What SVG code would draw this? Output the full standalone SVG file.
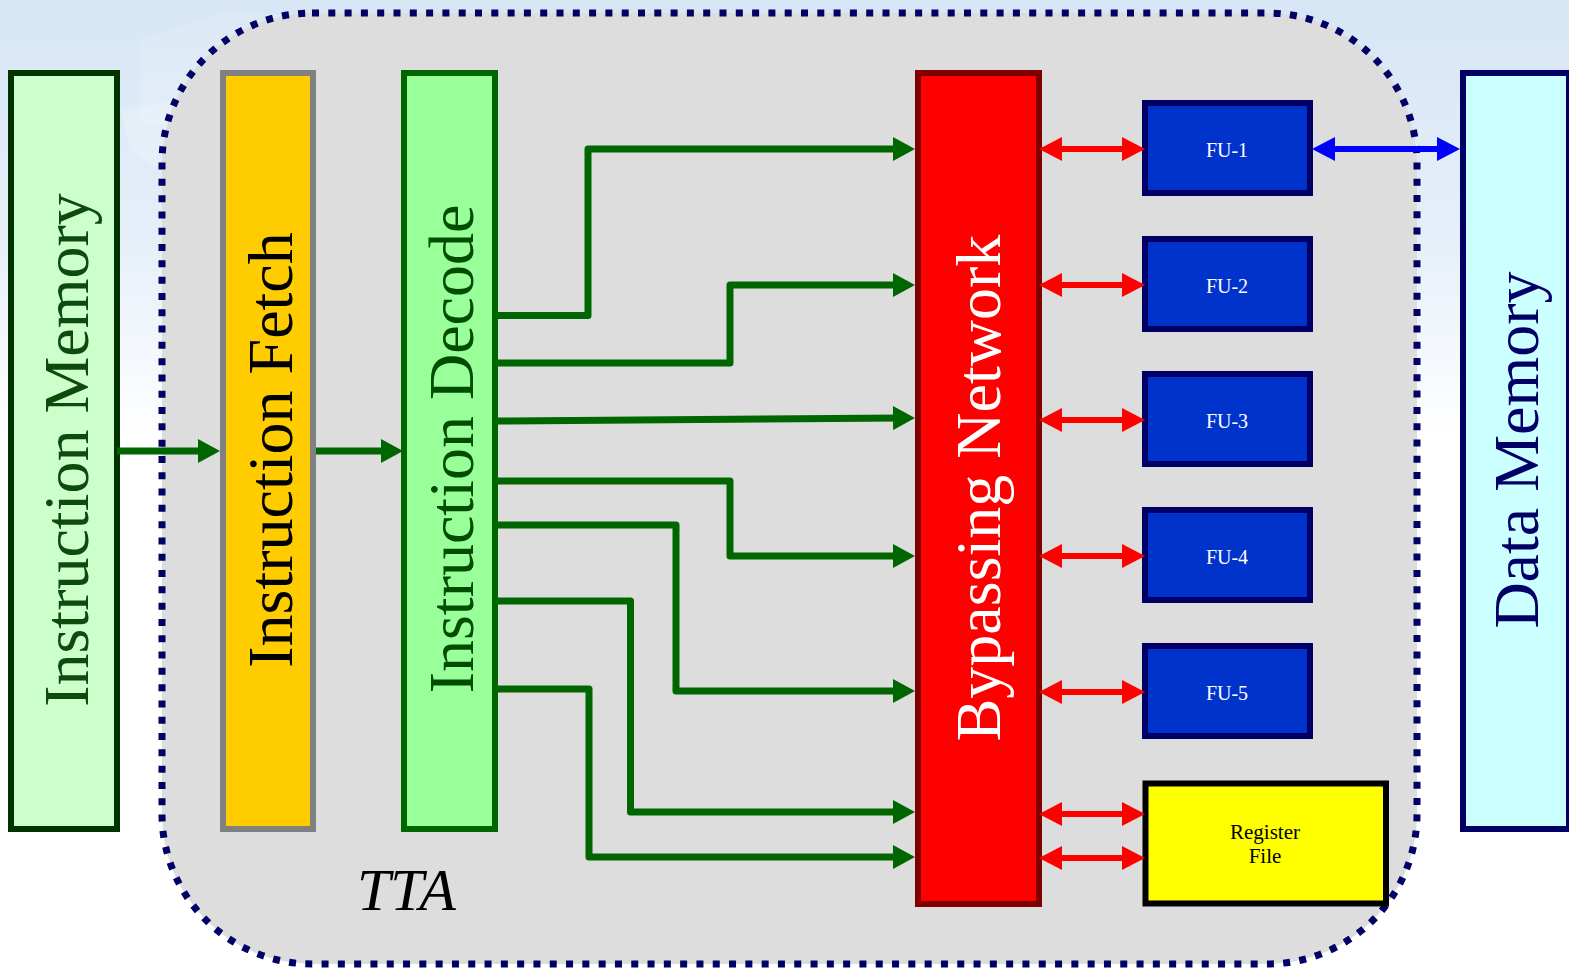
<svg xmlns="http://www.w3.org/2000/svg" width="1569" height="969" viewBox="0 0 1569 969">
  <defs>
    <linearGradient id="sky" x1="0" y1="0" x2="0" y2="1">
      <stop offset="0" stop-color="#d6e6f5"/>
      <stop offset="0.25" stop-color="#e6eff9"/>
      <stop offset="0.45" stop-color="#ffffff"/>
      <stop offset="1" stop-color="#ffffff"/>
    </linearGradient>
    <marker id="ahG" markerUnits="userSpaceOnUse" markerWidth="22" markerHeight="24" refX="10" refY="12" orient="auto-start-reverse" viewBox="0 0 22 24">
      <path d="M0,0 L22,12 L0,24 z" fill="#006600"/>
    </marker>
    <marker id="ahR" markerUnits="userSpaceOnUse" markerWidth="23" markerHeight="24" refX="10" refY="12" orient="auto-start-reverse" viewBox="0 0 23 24">
      <path d="M0,0 L23,12 L0,24 z" fill="#ff0000"/>
    </marker>
    <marker id="ahB" markerUnits="userSpaceOnUse" markerWidth="23" markerHeight="24" refX="10" refY="12" orient="auto-start-reverse" viewBox="0 0 23 24">
      <path d="M0,0 L23,12 L0,24 z" fill="#0000ff"/>
    </marker>
  </defs>
  <style>
    .big { font-family: "Liberation Serif", "Times New Roman", serif; font-size: 64px; text-anchor: middle; }
    .fu rect { fill: #0033cc; stroke: #000066; stroke-width: 6; }
    .fu text { font-family: "Liberation Serif", "Times New Roman", serif; font-size: 20px; fill: #ffffff; text-anchor: middle; }
    .rf { font-family: "Liberation Serif", "Times New Roman", serif; font-size: 21px; fill: #000000; text-anchor: middle; }
    .g { fill: none; stroke: #006600; stroke-width: 7; stroke-linejoin: round; marker-end: url(#ahG); }
    .r { fill: none; stroke: #ff0000; stroke-width: 6; marker-start: url(#ahR); marker-end: url(#ahR); }
    .b { fill: none; stroke: #0000ff; stroke-width: 6; marker-start: url(#ahB); marker-end: url(#ahB); }
  </style>

  <!-- background -->
  <rect x="0" y="0" width="1569" height="969" fill="url(#sky)"/>
  <path d="M140,40 L230,10 L420,30 L440,60 L380,90 L300,130 L200,140 L140,120 Z" fill="#ffffff" opacity="0.15"/>
  <path d="M120,110 L180,100 L160,170 L130,150 Z" fill="#ffffff" opacity="0.2"/>

  <!-- TTA container -->
  <g id="tta">
    <rect x="162" y="13" width="1255" height="951" rx="150" ry="150" fill="#dddddd" stroke="#000066" stroke-width="7" stroke-dasharray="7 9.3"/>
    <text x="357" y="910" font-family="Liberation Serif, Times New Roman, serif" font-style="italic" font-size="60" fill="#000000">TTA</text>
  </g>

  <g id="instruction-memory">
    <rect x="11" y="73" width="106" height="756" fill="#ccffcc" stroke="#003300" stroke-width="6"/>
    <text class="big" transform="translate(88,450) rotate(-90)" fill="#0d4a0d">Instruction Memory</text>
  </g>

  <g id="instruction-fetch">
    <rect x="223" y="73" width="90" height="756" fill="#ffcc00" stroke="#808080" stroke-width="6"/>
    <text class="big" transform="translate(292,450) rotate(-90)" fill="#000000">Instruction Fetch</text>
  </g>

  <g id="instruction-decode">
    <rect x="404" y="73" width="91" height="756" fill="#99ff99" stroke="#006600" stroke-width="6"/>
    <text class="big" transform="translate(473,449) rotate(-90)" fill="#004d00">Instruction Decode</text>
  </g>

  <g id="bypassing-network">
    <rect x="918" y="73" width="121" height="831" fill="#ff0000" stroke="#800000" stroke-width="6"/>
    <text class="big" transform="translate(1000,488) rotate(-90)" fill="#ffffff">Bypassing Network</text>
  </g>

  <g id="fu-1" class="fu">
    <rect x="1145" y="103" width="165" height="90"/>
    <text x="1227" y="157">FU-1</text>
  </g>
  <g id="fu-2" class="fu">
    <rect x="1145" y="239" width="165" height="90"/>
    <text x="1227" y="293">FU-2</text>
  </g>
  <g id="fu-3" class="fu">
    <rect x="1145" y="374" width="165" height="90"/>
    <text x="1227" y="428">FU-3</text>
  </g>
  <g id="fu-4" class="fu">
    <rect x="1145" y="510" width="165" height="90"/>
    <text x="1227" y="564">FU-4</text>
  </g>
  <g id="fu-5" class="fu">
    <rect x="1145" y="646" width="165" height="90"/>
    <text x="1227" y="700">FU-5</text>
  </g>

  <g id="register-file">
    <rect x="1145.5" y="783.5" width="240.5" height="120" fill="#ffff00" stroke="#000000" stroke-width="6"/>
    <text class="rf" x="1265" y="839">Register</text>
    <text class="rf" x="1265" y="863">File</text>
  </g>

  <g id="data-memory">
    <rect x="1463" y="73" width="106" height="756" fill="#ccffff" stroke="#000066" stroke-width="6"/>
    <text class="big" transform="translate(1538,450) rotate(-90)" fill="#000066">Data Memory</text>
  </g>

  <g id="connectors">
    <path class="g" d="M117,451 L208,451"/>
    <path class="g" d="M316,451 L391,451"/>
    <path class="g" d="M495,315.5 L588,315.5 L588,149 L903,149"/>
    <path class="g" d="M495,363 L730,363 L730,285 L903,285"/>
    <path class="g" d="M495,421 L903,418"/>
    <path class="g" d="M495,481 L730,481 L730,556 L903,556"/>
    <path class="g" d="M495,525 L676,525 L676,691 L903,691"/>
    <path class="g" d="M495,601 L630.5,601 L630.5,812 L903,812"/>
    <path class="g" d="M495,689 L589,689 L589,857 L903,857"/>

    <path class="r" d="M1052,149 L1132,149"/>
    <path class="r" d="M1052,285 L1132,285"/>
    <path class="r" d="M1052,420 L1132,420"/>
    <path class="r" d="M1052,556 L1132,556"/>
    <path class="r" d="M1052,692 L1132,692"/>
    <path class="r" d="M1052,814 L1132,814"/>
    <path class="r" d="M1052,858 L1132,858"/>

    <path class="b" d="M1325,149 L1447,149"/>
  </g>
</svg>
